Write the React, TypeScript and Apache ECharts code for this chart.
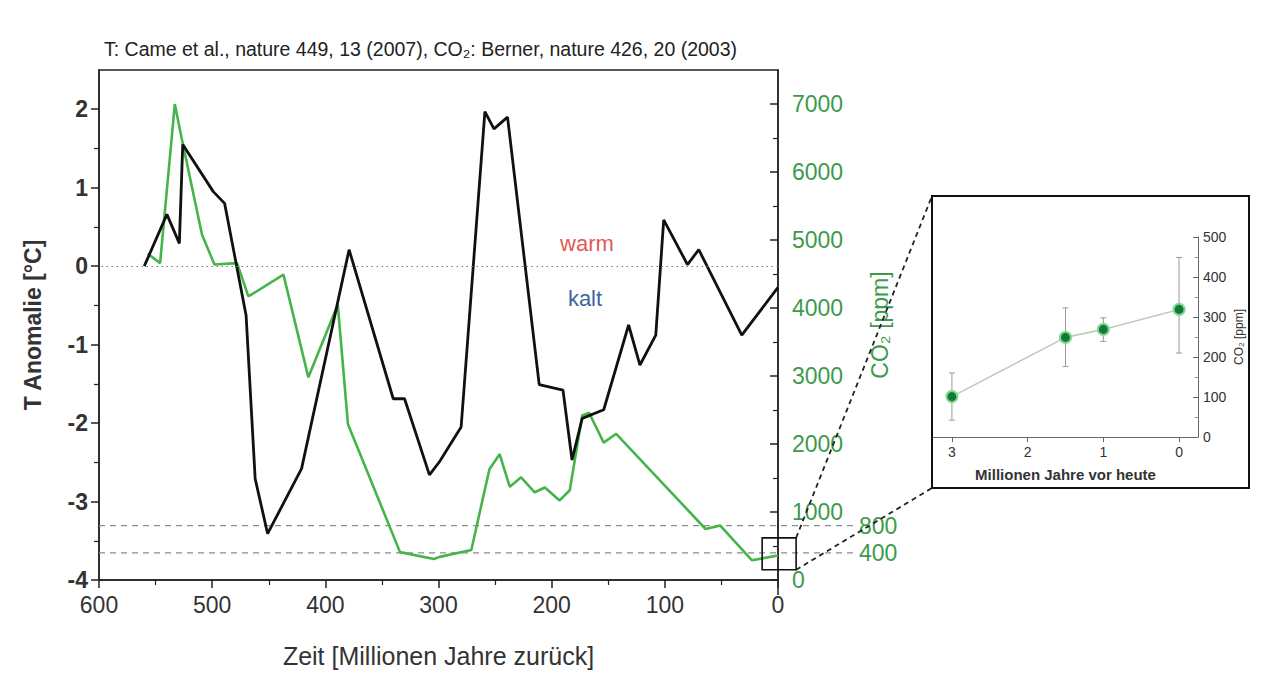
import React, { useEffect, useRef } from "react";
import * as echarts from "echarts";

// ---- Main chart data (age in million years ago) ----
const tAge = [560, 540, 529, 526, 499, 489, 470, 462, 451, 421, 379, 340, 330, 308, 299, 280, 259, 251, 239, 211, 190, 182, 173, 154, 132, 122, 108, 101, 80, 70, 32, 0];
const tAnom = [0.0, 0.66, 0.29, 1.55, 0.95, 0.8, -0.63, -2.71, -3.41, -2.58, 0.21, -1.69, -1.69, -2.66, -2.49, -2.05, 1.97, 1.75, 1.9, -1.51, -1.58, -2.47, -1.94, -1.83, -0.75, -1.26, -0.88, 0.59, 0.02, 0.21, -0.88, -0.27];

const co2Age = [557, 546, 533, 527, 509, 498, 478, 468, 437, 415, 389, 380, 334, 304, 299, 271, 255, 246, 237, 227, 215, 206, 193, 184, 173, 167, 154, 143, 64, 51, 23, 0];
const co2Ppm = [4800, 4660, 7000, 6500, 5080, 4640, 4660, 4170, 4490, 2980, 4050, 2290, 410, 310, 340, 440, 1630, 1850, 1370, 1510, 1290, 1360, 1170, 1320, 2420, 2460, 2020, 2150, 750, 800, 290, 360];

const xTicks = [0, 100, 200, 300, 400, 500, 600];
const tTicks = [-4, -3, -2, -1, 0, 1, 2];
const co2Ticks = [0, 1000, 2000, 3000, 4000, 5000, 6000, 7000];
const co2RefLevels = [800, 400];
const zoomBoxAge = [14, -16];
const zoomBoxPpm = [620, 150];

// ---- Inset data ----
const insetAge = [3, 1.5, 1, 0];
const insetCO2 = [101, 249, 269, 319];
const insetLow = [42, 176, 239, 210];
const insetHigh = [160, 323, 298, 449];
const insetXTicks = [0, 1, 2, 3];

const FONT = '"Liberation Sans", Arial, Helvetica, sans-serif';
const GREEN_LINE = "#45b54b";
const GREEN_TEXT = "#3d9a4c";
const DARK = "#222";

export default function App() {
  const ref = useRef<HTMLDivElement>(null);

  useEffect(() => {
    const el = ref.current;
    if (!el) return;
    const chart = echarts.init(el, null, { renderer: "svg" });

    const option: any = {
      animation: false,
      backgroundColor: "#ffffff",
      textStyle: { fontFamily: FONT },
      title: {
        text: "T: Came et al., nature 449, 13 (2007), CO₂: Berner, nature 426, 20 (2003)",
        left: 99,
        top: 34,
        textStyle: { fontSize: 19.5, fontWeight: "normal", color: DARK, fontFamily: FONT },
      },
      grid: [
        { left: 99, top: 70, width: 679, height: 510, show: true, borderColor: DARK, borderWidth: 1.5, backgroundColor: "transparent" },
        { left: 933, top: 237, width: 265, height: 200 },
      ],
      xAxis: [
        {
          gridIndex: 0,
          type: "value",
          min: 0,
          max: 600,
          interval: 100,
          inverse: true,
          axisLine: { onZero: false, lineStyle: { color: DARK, width: 1.5 } },
          axisTick: { length: 8, lineStyle: { color: DARK, width: 1.5 } },
          minorTick: { show: true, splitNumber: 2, length: 5, lineStyle: { color: DARK, width: 1.2 } },
          splitLine: { show: false },
          axisLabel: { fontSize: 23, color: "#333", margin: 13, customValues: xTicks },
          name: "Zeit [Millionen Jahre zurück]",
          nameLocation: "middle",
          nameGap: 63,
          nameTextStyle: { fontSize: 25, color: "#333" },
        },
        {
          gridIndex: 1,
          type: "value",
          min: -0.25,
          max: 3.25,
          inverse: true,
          axisLine: { onZero: false, lineStyle: { color: "#666", width: 1 } },
          axisTick: { length: 5, lineStyle: { color: "#666" }, customValues: insetXTicks },
          splitLine: { show: false },
          axisLabel: { fontSize: 14, color: "#333", margin: 8, customValues: insetXTicks },
          name: "Millionen Jahre vor heute",
          nameLocation: "middle",
          nameGap: 30,
          nameTextStyle: { fontSize: 15, color: "#333", fontWeight: "bold" },
        },
      ],
      yAxis: [
        {
          gridIndex: 0,
          type: "value",
          min: -4,
          max: 2.5,
          interval: 1,
          position: "left",
          axisLine: { show: true, onZero: false, lineStyle: { color: DARK, width: 1.5 } },
          axisTick: { show: true, length: 8, lineStyle: { color: DARK, width: 1.5 }, customValues: tTicks },
          minorTick: { show: true, splitNumber: 2, length: 5, lineStyle: { color: DARK, width: 1.2 } },
          splitLine: { show: false },
          axisLabel: { fontSize: 23, color: "#333", fontWeight: "bold", margin: 11, customValues: tTicks },
          name: "T Anomalie [°C]",
          nameLocation: "middle",
          nameRotate: 90,
          nameGap: 55,
          nameTextStyle: { fontSize: 23, color: "#333", fontWeight: "bold" },
        },
        {
          gridIndex: 0,
          type: "value",
          min: 0,
          max: 7500,
          interval: 1000,
          position: "right",
          axisLine: { show: true, onZero: false, lineStyle: { color: DARK, width: 1.5 } },
          axisTick: { show: true, inside: true, length: 8, lineStyle: { color: DARK, width: 1.5 }, customValues: co2Ticks },
          minorTick: { show: true, splitNumber: 2, length: 5, lineStyle: { color: DARK, width: 1.2 } },
          splitLine: { show: false },
          axisLabel: { fontSize: 23, color: GREEN_TEXT, margin: 14, customValues: co2Ticks, formatter: (v: number) => String(v) },
          name: "CO₂ [ppm]",
          nameLocation: "middle",
          nameRotate: 90,
          nameGap: 90,
          nameTextStyle: { fontSize: 23, color: GREEN_TEXT },
        },
        {
          gridIndex: 1,
          type: "value",
          min: 0,
          max: 500,
          interval: 100,
          position: "right",
          axisLine: { show: true, onZero: false, lineStyle: { color: "#666", width: 1 } },
          axisTick: { show: true, inside: true, length: 5, lineStyle: { color: "#666" } },
          minorTick: { show: true, splitNumber: 2, length: 3, lineStyle: { color: "#888" } },
          splitLine: { show: false },
          axisLabel: { fontSize: 14, color: "#333", margin: 5, formatter: (v: number) => String(v) },
          name: "CO₂ [ppm]",
          nameLocation: "middle",
          nameRotate: 90,
          nameGap: 35,
          nameTextStyle: { fontSize: 12, color: "#333" },
        },
      ],
      series: [
        {
          name: "CO2",
          type: "line",
          xAxisIndex: 0,
          yAxisIndex: 1,
          data: co2Age.map((a, i) => [a, co2Ppm[i]]),
          symbol: "none",
          lineStyle: { color: GREEN_LINE, width: 2.6 },
          z: 3,
        },
        {
          name: "T",
          type: "line",
          xAxisIndex: 0,
          yAxisIndex: 0,
          data: tAge.map((a, i) => [a, tAnom[i]]),
          symbol: "none",
          lineStyle: { color: "#111", width: 2.8 },
          z: 4,
          markLine: {
            silent: true,
            symbol: "none",
            label: { show: false },
            lineStyle: { type: [1.5, 3.5], color: "#777", width: 1.2 },
            data: [{ yAxis: 0 }],
          },
        },
        {
          name: "errors",
          type: "custom",
          xAxisIndex: 1,
          yAxisIndex: 2,
          data: insetAge.map((a, i) => [a, insetLow[i], insetHigh[i]]),
          encode: { x: 0, y: [1, 2] },
          z: 2,
          renderItem: (params: any, api: any) => {
            const x = api.value(0);
            const top = api.coord([x, api.value(2)]);
            const bot = api.coord([x, api.value(1)]);
            const cap = 3;
            const st = { stroke: "#9a9a9a", lineWidth: 1 };
            return {
              type: "group",
              children: [
                { type: "line", shape: { x1: top[0], y1: top[1], x2: bot[0], y2: bot[1] }, style: st },
                { type: "line", shape: { x1: top[0] - cap, y1: top[1], x2: top[0] + cap, y2: top[1] }, style: st },
                { type: "line", shape: { x1: bot[0] - cap, y1: bot[1], x2: bot[0] + cap, y2: bot[1] }, style: st },
              ],
            };
          },
        },
        {
          name: "inset",
          type: "line",
          xAxisIndex: 1,
          yAxisIndex: 2,
          data: insetAge.map((a, i) => [a, insetCO2[i]]),
          symbol: "circle",
          symbolSize: 11,
          itemStyle: { color: "#13793a", borderColor: "#7fd88b", borderWidth: 2 },
          lineStyle: { color: "#b9cfb6", width: 1.6 },
          z: 5,
        },
      ],
    };

    chart.setOption(option);

    const px = (v: number) => chart.convertToPixel({ xAxisIndex: 0 }, v) as number;
    const pyCO2 = (v: number) => chart.convertToPixel({ yAxisIndex: 1 }, v) as number;

    const leftX = px(600);
    const rightX = px(0);
    const bottomY = pyCO2(0);
    const refLineEnd = 855;
    const graphics: any[] = [];

    // right axis line continues a little below the bottom axis
    graphics.push({
      type: "line",
      shape: { x1: rightX, y1: bottomY, x2: rightX, y2: bottomY + 15 },
      style: { stroke: DARK, lineWidth: 1.5 },
      z: 10,
    });

    co2RefLevels.forEach((lvl) => {
      const y = pyCO2(lvl);
      graphics.push({
        type: "line",
        shape: { x1: leftX, y1: y, x2: refLineEnd, y2: y },
        style: { stroke: "#8c8c8c", lineWidth: 1.3, lineDash: [6, 5] },
        z: 1,
      });
      graphics.push({
        type: "text",
        x: refLineEnd + 4,
        y,
        style: { text: String(lvl), fontSize: 23, fill: GREEN_TEXT, fontFamily: FONT, verticalAlign: "middle", align: "left" },
      });
    });

    const bx1 = px(zoomBoxAge[0]);
    const bx2 = px(zoomBoxAge[1]);
    const by1 = pyCO2(zoomBoxPpm[0]);
    const by2 = pyCO2(zoomBoxPpm[1]);
    graphics.push({
      type: "rect",
      shape: { x: bx1, y: by1, width: bx2 - bx1, height: by2 - by1 },
      style: { fill: "none", stroke: "#111", lineWidth: 1.6 },
      z: 10,
    });

    const frame = { x: 932, y: 196, w: 317, h: 292 };
    graphics.push({
      type: "rect",
      shape: { x: frame.x, y: frame.y, width: frame.w, height: frame.h },
      style: { fill: "none", stroke: "#111", lineWidth: 2 },
      z: 10,
    });
    graphics.push({
      type: "line",
      shape: { x1: bx2, y1: by1, x2: frame.x, y2: frame.y },
      style: { stroke: "#222", lineWidth: 1.8, lineDash: [5, 4] },
      z: 10,
    });
    graphics.push({
      type: "line",
      shape: { x1: bx2, y1: by2, x2: frame.x, y2: frame.y + frame.h },
      style: { stroke: "#222", lineWidth: 1.8, lineDash: [5, 4] },
      z: 10,
    });

    graphics.push({
      type: "text",
      x: 587,
      y: 243,
      style: { text: "warm", fontSize: 22, fill: "#e05a55", fontFamily: FONT, align: "center", verticalAlign: "middle" },
    });
    graphics.push({
      type: "text",
      x: 585,
      y: 298,
      style: { text: "kalt", fontSize: 22, fill: "#3f62a0", fontFamily: FONT, align: "center", verticalAlign: "middle" },
    });

    chart.setOption({ graphic: graphics });

    return () => {
      chart.dispose();
    };
  }, []);

  return (
    <div
      ref={ref}
      style={{ position: "fixed", left: 0, top: 0, width: 1283, height: 677, background: "#fff" }}
    />
  );
}
